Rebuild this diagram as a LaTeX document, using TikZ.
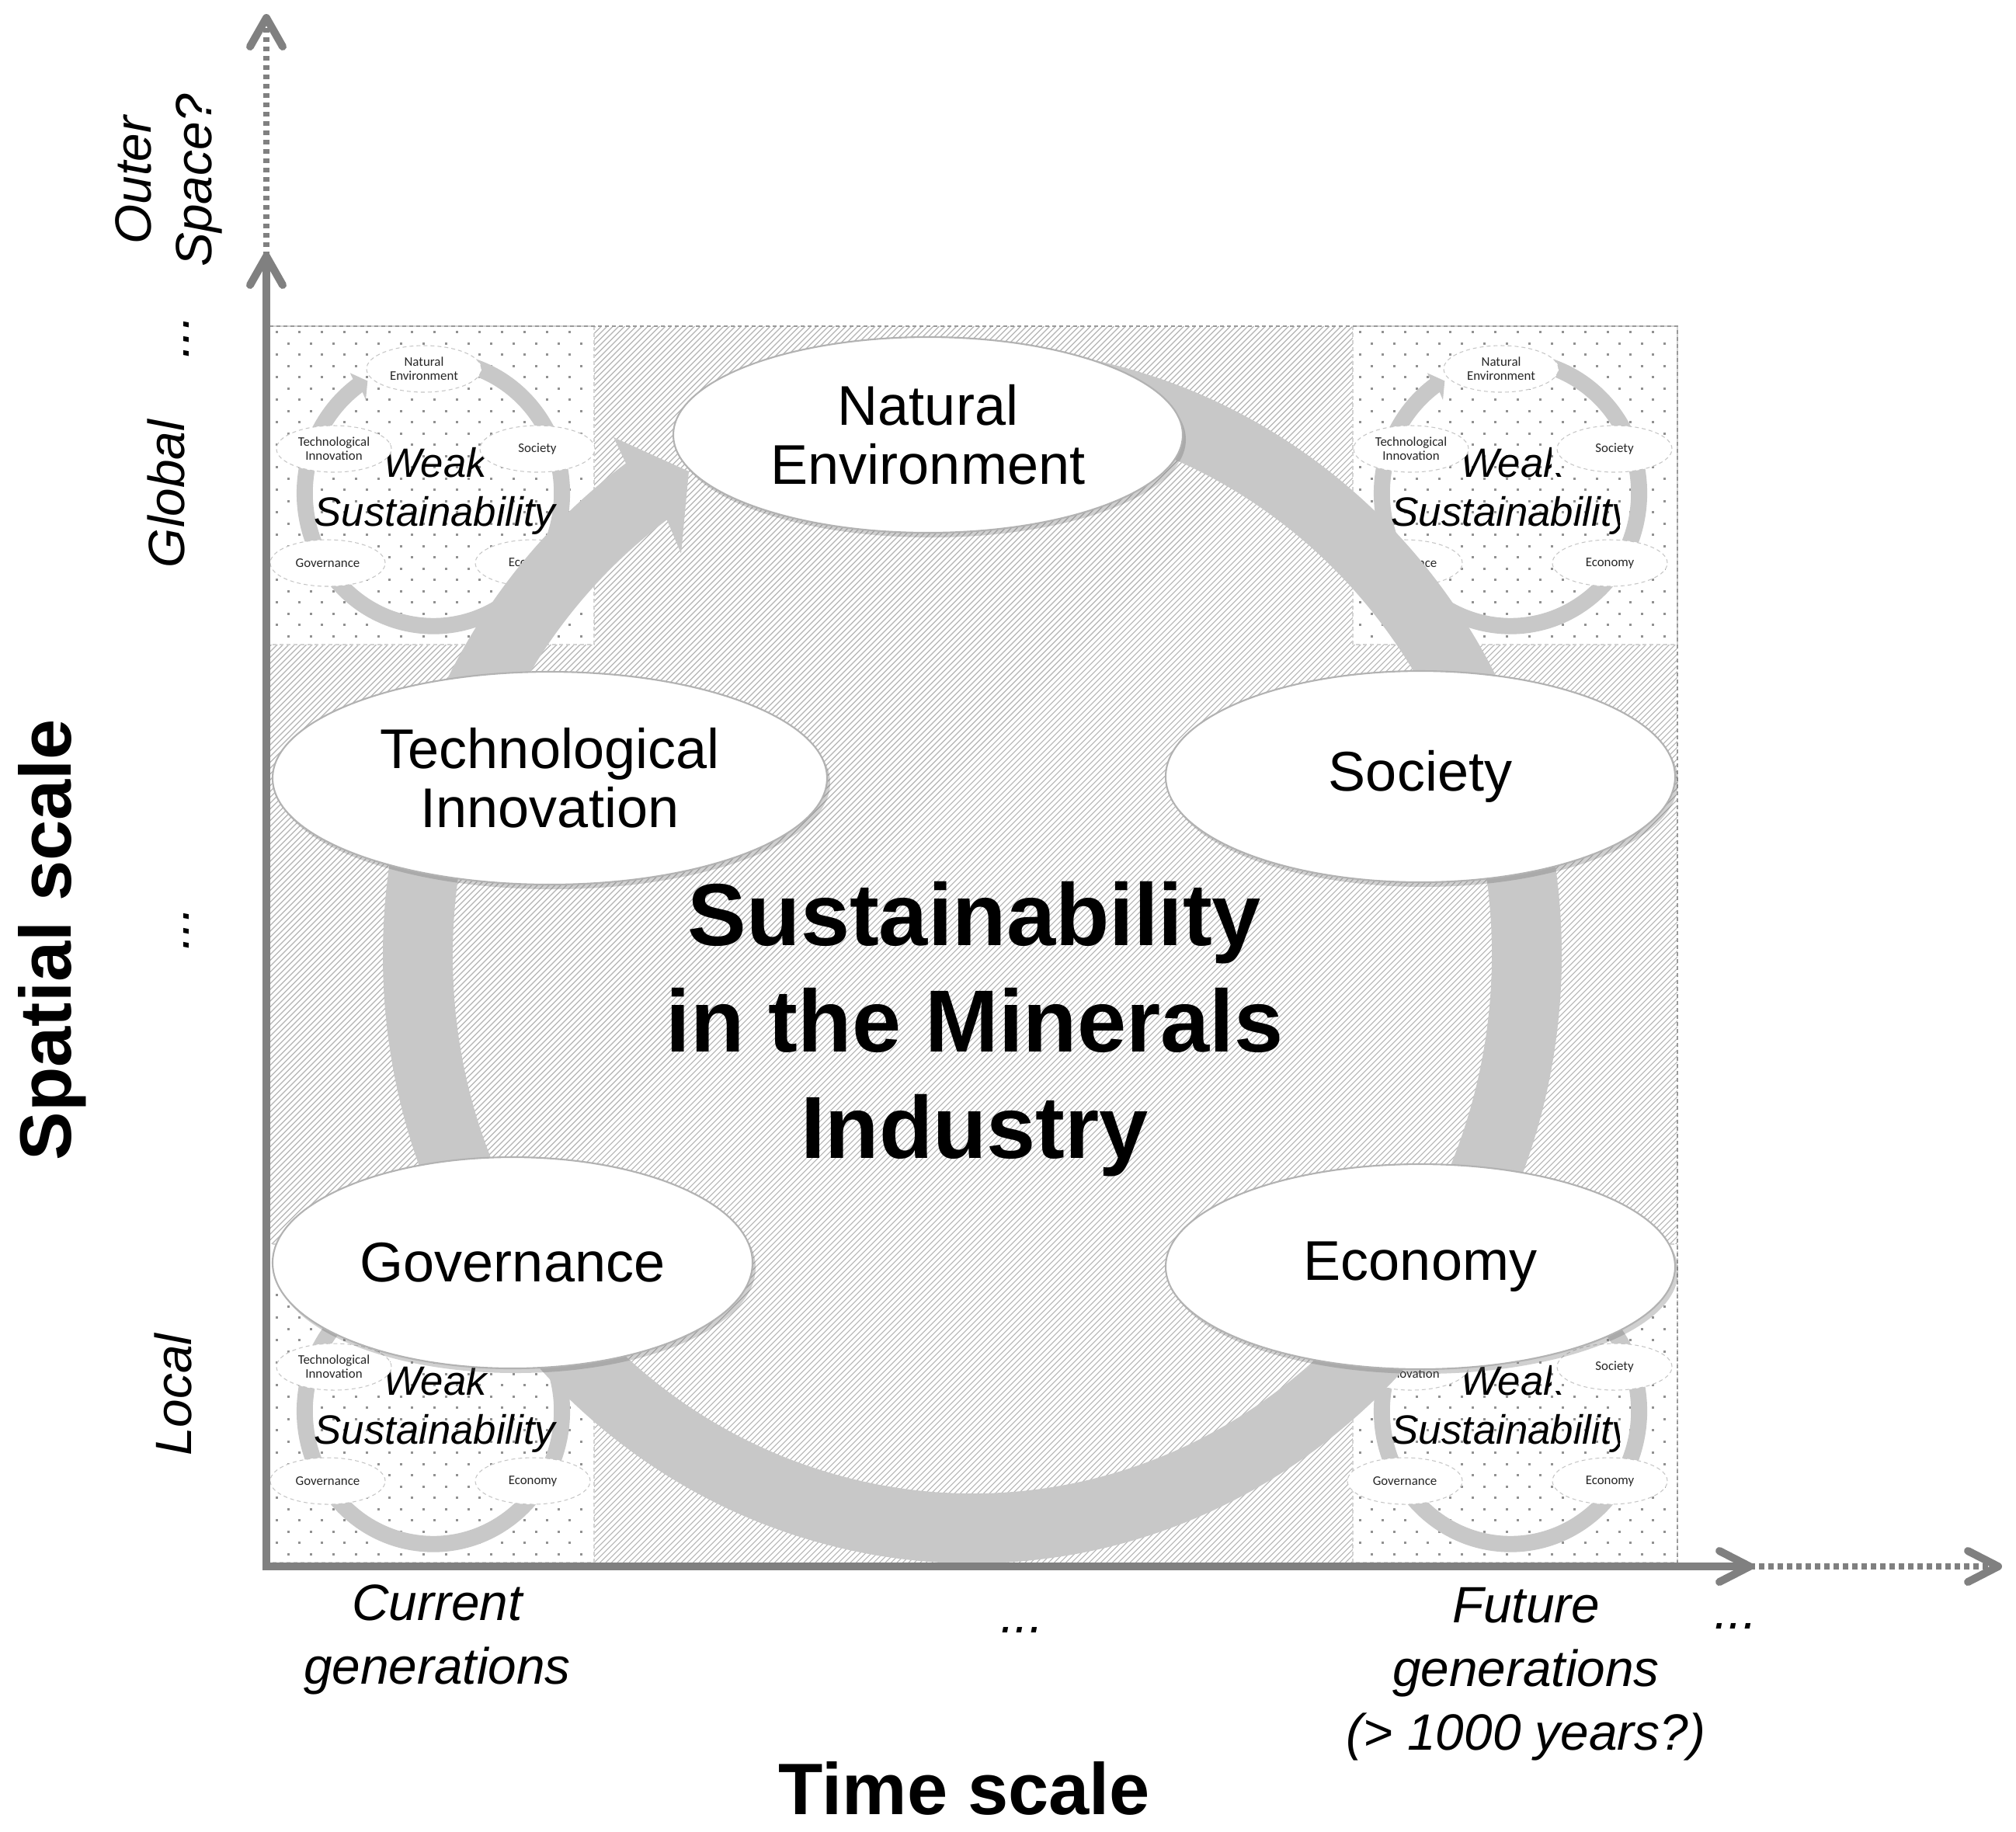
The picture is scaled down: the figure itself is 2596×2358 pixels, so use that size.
\documentclass[tikz,border=0pt]{standalone}
\usepackage{fontspec}
\setmainfont{Liberation Sans}
\newfontfamily\minifont{Carlito}
\usetikzlibrary{shapes.geometric,shadows,calc}
\definecolor{ringgray}{RGB}{200,200,200}
\definecolor{axisgray}{RGB}{128,128,128}
\definecolor{hatchgray}{RGB}{180,180,180}
\definecolor{dotgray}{RGB}{145,145,145}
\tikzset{
  bigell/.style={ellipse, fill=white, draw=gray!60, line width=0.6pt, inner sep=0pt, align=center,
    font=\fontsize{20.5}{21.5}\selectfont,
    drop shadow={shadow xshift=0.4mm, shadow yshift=-0.6mm, opacity=0.3, fill=black!60}},
  miniell/.style={ellipse, fill=white, draw=gray!45, dash pattern=on 0.5mm off 0.4mm, line width=0.3pt,
    inner sep=0pt, minimum width=14.8mm, minimum height=6mm, align=center,
    font=\fontsize{4.8}{5.2}\minifont, text=black!85},
  weaktext/.style={align=center, inner sep=0pt, font=\fontsize{15}{18}\selectfont\itshape},
  axisline/.style={draw=axisgray, line width=1mm, line join=miter},
  axisdot/.style={draw=axisgray, line width=0.8mm, dash pattern=on 0.65mm off 0.55mm},
  chev/.style={draw=axisgray, line width=1mm, line cap=round, line join=round},
  ilabel/.style={align=center, inner sep=0pt, font=\fontsize{18.7}{23.3}\selectfont\itshape},
  blabel/.style={inner sep=0pt, font=\fontsize{26.7}{32}\selectfont\bfseries},
  sqborder/.style={draw=gray!35, line width=0.4pt, dash pattern=on 0.5mm off 0.4mm},
  rectborder/.style={draw=gray!80, line width=0.6pt, dash pattern=on 0.5mm off 0.4mm}
}
\newcommand\ringshape{%
  \fill[ringgray] (-88:759 and 783)
    arc[start angle=-88, end angle=234, x radius=759, y radius=783]
    -- (-462,-667) -- (-365,-623) -- (-375,-517)
    -- (234:669 and 693)
    arc[start angle=234, end angle=-88, x radius=669, y radius=693] -- cycle;}
\newcommand\dotsquare[2]{%
  \fill[white] (#1,#2) rectangle ++(418,410);
  \foreach \j in {0,...,27}{%
    \pgfmathsetmacro\off{mod(\j,2)*14.5}%
    \foreach \i in {0,...,13}{%
      \fill[dotgray] ({#1+8+\off+29*\i},{#2+6+14.5*\j}) rectangle ++(3,3);}}%
  \draw[sqborder] (#1,#2) rectangle ++(418,410);}
% #1 x, #2 y, #3 prefix, #4 clip right (upper line), #5 clip right (lower line),
% #6 draw NE, #7 draw Society, #8 draw Tech
\newcommand\minidiagram[8]{%
  \begin{scope}[shift={(#1,#2)}]
    \begin{scope}[scale=0.232] \ringshape \end{scope}
    \begin{scope}
      \clip (-250,-130) -- (#4,-130) -- (#4,-26) -- (#5,-26) -- (#5,80) -- (-250,80) -- cycle;
      \node[weaktext] (#3w) at (2,-3) {Weak\\Sustainability};
    \end{scope}
    \ifnum#6=1 \node[miniell] (#3ne) at (-12,-160) {Natural\\Environment};\fi
    \ifnum#8=1 \node[miniell] (#3ti) at (-128,-57) {Technological\\Innovation};\fi
    \ifnum#7=1 \node[miniell] (#3so) at (134,-57) {Society};\fi
    \node[miniell] (#3go) at (-136,90) {Governance};
    \node[miniell] (#3ec) at (128,90) {Economy};
  \end{scope}}
\begin{document}
\begin{tikzpicture}[x=0.1mm, y=-0.1mm]
\useasboundingbox (0,0) rectangle (2596,2358);
\fill[white] (0,0) rectangle (2596,2358);
% hatched field
\begin{scope}
  \clip (347,420) rectangle (2160,2012);
  \foreach \k in {0,...,455}{%
    \draw[hatchgray, line width=0.32pt] ({767+7.5*\k-2012},2012) -- ({767+7.5*\k-420},420);}
\end{scope}
% corner squares with small diagrams
\dotsquare{347}{420}
\dotsquare{1742}{420}
\dotsquare{347}{1602}
\dotsquare{1742}{1602}
\draw[rectborder] (347,420) -- (2160,420) -- (2160,2012);
\minidiagram{558}{635}{a}{400}{400}{1}{1}{1}
\minidiagram{1945}{635}{b}{52}{140}{1}{1}{1}
\minidiagram{558}{1817}{c}{400}{400}{0}{0}{1}
\minidiagram{1945}{1817}{d}{52}{140}{0}{1}{1}
% big ring arrow
\begin{scope}[shift={(1252,1230)}] \ringshape \end{scope}
% big ellipses
\node[bigell, minimum width=65.6mm, minimum height=25.2mm] (ne) at (1195,560) {Natural\\Environment};
\node[bigell, minimum width=71.4mm, minimum height=27.4mm] (ti) at (708,1002) {Technological\\Innovation};
\node[bigell, minimum width=65.6mm, minimum height=27.2mm] (so) at (1829,1000) {Society};
\node[bigell, minimum width=61.8mm, minimum height=27.2mm] (go) at (660,1626) {Governance};
\node[bigell, minimum width=65.6mm, minimum height=26.4mm] (ec) at (1829,1631) {Economy};
% title
\node[align=center, inner sep=0pt, font=\fontsize{32.3}{39}\selectfont\bfseries] (title) at (1255,1325)
  {Sustainability\\in the Minerals\\Industry};
% axes
\coordinate (O) at (343,2017);
\coordinate (ytip) at (343,330);
\coordinate (yend) at (343,23);
\coordinate (xtip) at (2253,2017);
\coordinate (xend) at (2573,2017);
\draw[axisline] (ytip) -- (O) -- (xtip);
\draw[axisdot] (ytip) -- (yend);
\draw[axisdot] (xtip) -- (xend);
\draw[chev] (ytip) ++(-21,37) -- (ytip) -- ++(21,37);
\draw[chev] (yend) ++(-21,37) -- (yend) -- ++(21,37);
\draw[chev] (xtip) ++(-39,-20) -- (xtip) -- ++(-39,20);
\draw[chev] (xend) ++(-39,-20) -- (xend) -- ++(-39,20);
% axis labels
\node[blabel, rotate=90] (spatial) at (67,1210) {Spatial scale};
\node[blabel] (time) at (1242,2303) {Time scale};
\node[ilabel, rotate=90, font=\fontsize{18.7}{22.2}\selectfont\itshape] (outer) at (217,232) {Outer\\Space?};
\node[ilabel, rotate=90] (dots1) at (240,434) {...};
\node[ilabel, rotate=90] (global) at (214,636) {Global};
\node[ilabel, rotate=90] (dots2) at (240,1196) {...};
\node[ilabel, rotate=90] (local) at (223,1796) {Local};
\node[ilabel] (current) at (563,2111) {Current\\generations};
\node[ilabel] (dots3) at (1316,2099) {...};
\node[ilabel] (future) at (1965,2156) {Future\\generations\\(> 1000 years?)};
\node[ilabel] (dots4) at (2235,2094) {...};
\end{tikzpicture}
\end{document}
